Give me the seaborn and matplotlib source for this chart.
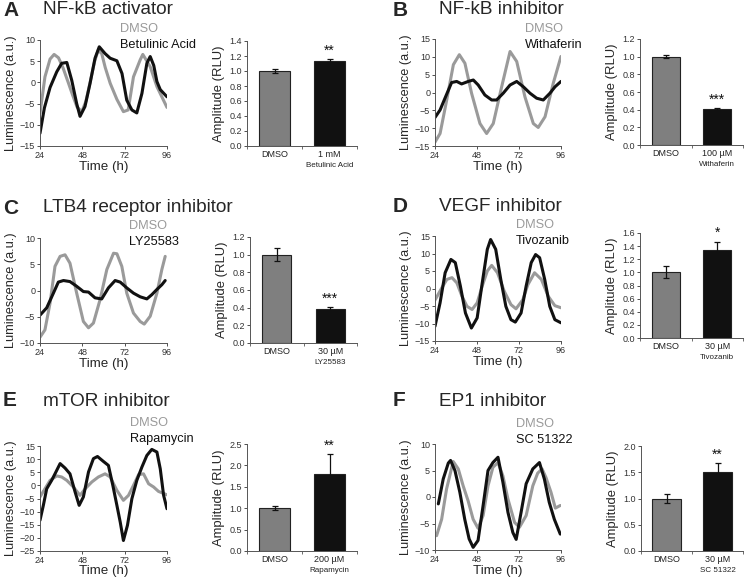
import numpy as np
import matplotlib
matplotlib.use("Agg")
import matplotlib.pyplot as plt
import seaborn as sns

sns.set_style("ticks")
plt.rcParams['font.family'] = ['Liberation Sans', 'DejaVu Sans']

W, H = 746, 579

# ---- time courses (hours, luminescence a.u.) ----
# A  NF-kB activator
t_a_dmso = [24, 26.8, 29.7, 32, 34.5, 37, 40, 42.5, 45, 47.7, 50, 52.4, 55, 57, 59, 61, 63.8, 67.6, 71.3, 74, 77, 80.8, 82.3, 86.5, 90.3, 96]
v_a_dmso = [-7.3, 1.3, 5.5, 6.6, 5.8, 3.5, 0, -3, -5.8, -6.9, -4.5, 0, 5, 7.6, 6.8, 3.5, -0.2, -4, -6.9, -6.5, 1.3, 5.3, 6.6, 3.7, -1, -5.9]
t_a_drug = [24, 26.5, 29.7, 33.5, 36.3, 39.2, 42, 44.8, 46.7, 49.5, 52.4, 55.2, 57.6, 60.9, 63.8, 67.6, 70.5, 73.2, 76.1, 78.9, 81.8, 84.6, 86.5, 88.5, 90.3, 92.2, 96]
v_a_drug = [-12, -6, -1.2, 2.5, 4.5, 4.7, 0.5, -5, -8, -5.7, -0.2, 5.7, 8.4, 6.8, 5.7, 5.1, 2.1, -4.2, -6.5, -7.2, -2.6, 4.5, 6.1, 4, 0.2, -1.7, -3.4]

# B  NF-kB inhibitor
t_b_dmso = [24, 26.9, 30.7, 34.5, 37.9, 41.1, 44.9, 49.7, 53.5, 57.3, 62.1, 66.9, 70.7, 75.4, 80.2, 83, 86.9, 91.6, 96]
v_b_dmso = [-13.9, -11.5, -2.1, 7.8, 10.6, 8.2, -0.2, -8.7, -11.5, -8.7, 1.6, 11.5, 8.7, -1.2, -8.7, -9.8, -6.8, 2.6, 10.1]
t_b_drug = [24, 26.9, 29.7, 33.5, 36.4, 39.2, 43, 45.9, 48.7, 52.5, 56.4, 59.2, 63, 66.9, 70.7, 74.5, 78.3, 82.1, 85.9, 89.7, 92.6, 96]
v_b_drug = [-7, -4.9, -1.6, 2.8, 3.1, 2.4, 3.1, 3.5, 2.1, -0.7, -2.1, -2.1, -0.2, 2.1, 3.1, 1.6, -0.2, -1.6, -2.1, -0.2, 1.6, 3.1]

# C  LTB4 receptor inhibitor
t_c_dmso = [24, 26.8, 29.7, 32.5, 35.4, 38.2, 41, 44.8, 48.6, 51.5, 54.3, 58.1, 61.9, 65.7, 67.6, 70.4, 73.2, 77, 80.8, 83.1, 86.5, 90.3, 93.1, 95]
v_c_dmso = [-8.9, -7.5, -2.4, 4.6, 6.5, 6.8, 5.2, -0.5, -5.9, -7.1, -6.2, -1.7, 4, 7.1, 7, 4.6, -0.5, -4.3, -5.9, -6.4, -4.9, -0.5, 4, 6.5]
t_c_drug = [24, 27.8, 31.6, 34.4, 37.3, 41, 44.8, 48.6, 51.5, 55.2, 59, 62.8, 66.6, 69.5, 73.2, 77, 80.8, 84.6, 87.4, 90.3, 93.1, 95]
v_c_drug = [-4.7, -3.3, -0.5, 1.6, 1.9, 1.7, 0.8, -0.2, -0.3, -1.4, -1.6, 0.5, 1.9, 1.6, 0.5, -0.5, -1.2, -1.6, -0.8, 0.2, 1.1, 1.9]

# D  VEGF inhibitor
t_d_dmso = [24, 27.9, 30.8, 33.7, 36.5, 39.4, 42.3, 45.2, 48.1, 51, 53.9, 56.4, 59.7, 63.6, 67.4, 70.3, 74.2, 77.1, 80.9, 84.8, 88.7, 92.5, 96]
v_d_dmso = [-3.3, 0.2, 2.6, 3.1, 1.6, -2.2, -5.1, -6, -4.1, 0.7, 5, 6.6, 4.5, -0.8, -4.6, -5.8, -3.2, 1.1, 4.5, 2.6, -2.2, -4.9, -5.5]
t_d_drug = [24, 26.9, 29.8, 33.1, 35.6, 38.5, 41.4, 44.8, 48.1, 51, 53.9, 55.8, 58.7, 61.6, 64.5, 67.4, 69.9, 73.2, 76.1, 79, 81.5, 83.8, 86.7, 89.6, 92.5, 96]
v_d_drug = [-10.8, -4.1, 4.5, 8.3, 7.4, 0.7, -7, -11.3, -8.4, 1.6, 11.2, 14, 11.2, 2.6, -5.1, -8.9, -9.6, -7, 0.7, 7.4, 9.7, 8.8, 2.6, -5.1, -8.9, -9.8]

# E  mTOR inhibitor
t_e_dmso = [24, 26.8, 29.7, 33.5, 36.3, 39.2, 42.9, 46.7, 49.6, 53.4, 57.1, 60.9, 63.8, 67.6, 71.3, 74.2, 77, 79.9, 82.7, 85.6, 88.4, 91.2, 96]
v_e_dmso = [-4.4, -1.3, 1.9, 3.6, 3.2, 1.9, -0.6, -3.8, -1.3, 1.3, 3.2, 4.4, 3.2, -1.9, -5.7, -3.8, 0, 4.1, 4.4, 0.6, -0.6, -2.3, -3.6]
t_e_drug = [24, 25.9, 27.8, 30.6, 32.5, 35.4, 38.2, 41, 43.9, 46.2, 48.6, 51.5, 54.3, 56.6, 60, 62.8, 65.3, 67.6, 69.5, 71.3, 73.6, 76.1, 78.9, 81.8, 84.6, 87.4, 90.3, 92.2, 94.1, 96]
v_e_drug = [-13.3, -7.6, -1.3, 1.9, 4.4, 8.3, 6.6, 4.4, -2.5, -7.6, -4.4, 5.1, 10.2, 11, 9.1, 7.6, 0, -7.6, -14, -21, -15.2, -5.1, 1.9, 7, 11.4, 13.7, 12.7, 6.3, -3.8, -8.9]

# F  EP1 inhibitor
t_f_dmso = [24.9, 27.8, 30.6, 34.4, 37.3, 40.1, 42.9, 45.8, 48.6, 51.5, 54.3, 57.1, 60, 62.8, 65.7, 69.5, 72.3, 76.1, 79.9, 82.7, 85.2, 87.4, 90.3, 92.8, 95.6]
v_f_dmso = [-7.3, -4.2, 1.5, 6.7, 5.3, 2.1, -0.7, -4.2, -5.9, -3.5, 2.1, 5.6, 6.5, 4, -0.4, -4.8, -5.7, -3.5, 2.1, 4.5, 5.3, 3.7, 0.9, -2.1, -1.6]
t_f_drug = [25.9, 28.7, 31.6, 32.9, 35.4, 38.2, 41, 43.5, 45.8, 48.6, 51.5, 54.3, 57.1, 60, 62.8, 65.7, 68.5, 70.4, 73.2, 76.1, 79.9, 83.7, 86.5, 89.3, 92.2, 95.6]
v_f_drug = [-1.3, 3.4, 6.4, 6.9, 5, 0.9, -4.2, -7.9, -9.5, -8.2, -1.6, 5, 6.5, 7.5, 2.8, -2.9, -6.7, -8, -2.9, 2.5, 5.3, 6.5, 3.4, -1, -4.2, -7]

# ---- amplitudes (RLU, DMSO-normalised) ----
amp_mean = {'A': [1.0, 1.14], 'B': [1.0, 0.41], 'C': [1.0, 0.38],
            'D': [1.0, 1.34], 'E': [1.0, 1.81], 'F': [1.0, 1.51]}
amp_err = {'A': [0.025, 0.02], 'B': [0.02, 0.012], 'C': [0.07, 0.03],
           'D': [0.09, 0.13], 'E': [0.04, 0.45], 'F': [0.085, 0.17]}
stars = {'A': '**', 'B': '***', 'C': '***', 'D': '*', 'E': '**', 'F': '**'}
doses = {'A': '1 mM', 'B': '100 µM', 'C': '30 µM', 'D': '30 µM', 'E': '200 µM', 'F': '30 µM'}
drugs = {'A': 'Betulinic Acid', 'B': 'Withaferin', 'C': 'LY25583', 'D': 'Tivozanib',
         'E': 'Rapamycin', 'F': 'SC 51322'}
titles = {'A': 'NF-kB activator', 'B': 'NF-kB inhibitor', 'C': 'LTB4 receptor inhibitor',
          'D': 'VEGF inhibitor', 'E': 'mTOR inhibitor', 'F': 'EP1 inhibitor'}

curves = {'A': (t_a_dmso, v_a_dmso, t_a_drug, v_a_drug),
          'B': (t_b_dmso, v_b_dmso, t_b_drug, v_b_drug),
          'C': (t_c_dmso, v_c_dmso, t_c_drug, v_c_drug),
          'D': (t_d_dmso, v_d_dmso, t_d_drug, v_d_drug),
          'E': (t_e_dmso, v_e_dmso, t_e_drug, v_e_drug),
          'F': (t_f_dmso, v_f_dmso, t_f_drug, v_f_drug)}

line_ylim = {'A': (-15, 10), 'B': (-15, 15), 'C': (-10, 10), 'D': (-15, 15), 'E': (-25, 15), 'F': (-10, 10)}
bar_ylim = {'A': (1.4, 0.2), 'B': (1.2, 0.2), 'C': (1.2, 0.2), 'D': (1.6, 0.2), 'E': (2.5, 0.5), 'F': (2.0, 0.5)}

# panel layout in pixels: line axes, bar axes, legend anchor, title row
layout = {
    'A': dict(line=(40, 40, 167, 146), bar=(247, 41, 357, 146), leg=(120, 29), row=10, col=0, xpad=1),
    'B': dict(line=(435, 39, 561, 146), bar=(640, 39, 743, 145), leg=(525, 29), row=10, col=1, xpad=1),
    'C': dict(line=(40, 238, 167, 343), bar=(250, 237, 357, 343), leg=(129, 226), row=208, col=0, xpad=1),
    'D': dict(line=(435, 236, 561, 341), bar=(640, 233, 743, 338), leg=(516, 225), row=207, col=1, xpad=1),
    'E': dict(line=(40, 446, 167, 551), bar=(247, 444, 357, 551), leg=(130, 423), row=401, col=0, xpad=0.3),
    'F': dict(line=(435, 444, 561, 550), bar=(641, 446, 743, 551), leg=(516, 424), row=401, col=1, xpad=0.5),
}

GRAY_LINE = '#9a9a9a'
BLACK = '#111111'
GRAY_BAR = '#7f7f7f'


def box(x0, y0, x1, y1):
    return [x0 / W, 1 - y1 / H, (x1 - x0) / W, (y1 - y0) / H]


fig = plt.figure(figsize=(W / 100, H / 100), dpi=100)

for key, lay in layout.items():
    t0, v0, t1, v1 = curves[key]

    # time course
    ax = fig.add_axes(box(*lay['line']))
    sns.lineplot(x=t0, y=v0, ax=ax, color=GRAY_LINE, lw=2.2)
    sns.lineplot(x=t1, y=v1, ax=ax, color=BLACK, lw=2.2)
    ax.set_xlim(24, 96.02)
    ax.set_ylim(*line_ylim[key])
    ax.set_xticks([24, 48, 72, 96])
    ax.set_xticklabels(['24', '48', '72', '96'])
    ax.set_yticks(np.arange(line_ylim[key][0], line_ylim[key][1] + 1, 5))
    ax.set_xlabel('Time (h)', fontsize=9.6, labelpad=lay['xpad'])
    ax.set_ylabel('Luminescence (a.u.)', fontsize=9.2, labelpad=2)
    ax.tick_params(labelsize=6.5, length=2, width=0.6, pad=1.5, colors='#333333')
    for s in ['left', 'bottom']:
        ax.spines[s].set_linewidth(0.7)
        ax.spines[s].set_color('#555555')
    sns.despine(ax=ax)

    # legend text
    lx, ly = lay['leg']
    fig.text(lx / W, 1 - ly / H, 'DMSO', color=GRAY_LINE, fontsize=9.2, va='center', ha='left')
    fig.text(lx / W, 1 - (ly + 16) / H, drugs[key], color=BLACK, fontsize=9.2, va='center', ha='left')

    # amplitude bars
    bx = fig.add_axes(box(*lay['bar']))
    cats = ['DMSO', doses[key]]
    sns.barplot(x=cats, y=amp_mean[key], ax=bx, hue=cats, palette=[GRAY_BAR, BLACK],
                legend=False, width=0.55, edgecolor='#222222', linewidth=0.8, errorbar=None)
    bx.errorbar([0, 1], amp_mean[key], yerr=amp_err[key], fmt='none',
                ecolor=BLACK, elinewidth=0.9, capsize=2.5, capthick=0.9)
    top, step = bar_ylim[key]
    bx.set_ylim(0, top)
    bx.set_xlim(-0.5, 1.5)
    bx.set_yticks(np.arange(0, top + 1e-6, step))
    bx.set_yticklabels([f'{v:.1f}' for v in np.arange(0, top + 1e-6, step)])
    bx.set_xticks([-0.5, 0.5, 1.5], minor=True)
    bx.set_ylabel('Amplitude (RLU)', fontsize=9.4, labelpad=3)
    bx.tick_params(axis='y', labelsize=6.5, length=2, width=0.6, pad=1.5, colors='#333333')
    bx.tick_params(axis='x', which='major', labelsize=6.5, length=0, pad=3, colors='#222222')
    bx.tick_params(axis='x', which='minor', length=2, width=0.6, color='#555555')
    for s in ['left', 'bottom']:
        bx.spines[s].set_linewidth(0.7)
        bx.spines[s].set_color('#555555')
    sns.despine(ax=bx)
    bx.annotate(drugs[key], xy=(1, 0), xycoords=('data', 'axes fraction'),
                xytext=(0, -11.5), textcoords='offset points', ha='center', va='top',
                fontsize=5.8, color='#222222')
    ytop = amp_mean[key][1] + amp_err[key][1]
    bx.annotate(stars[key], xy=(1, ytop), xytext=(0, 1), textcoords='offset points',
                ha='center', va='bottom', fontsize=10, color=BLACK)

    # panel letter + title
    x_letter = 3 if lay['col'] == 0 else 393
    x_title = 43 if lay['col'] == 0 else 439
    fig.text(x_letter / W, 1 - lay['row'] / H, key, fontsize=15, fontweight='bold', va='center', ha='left')
    fig.text(x_title / W, 1 - lay['row'] / H, titles[key], fontsize=13.7, va='center', ha='left')

fig.savefig('out.png', dpi=100)
